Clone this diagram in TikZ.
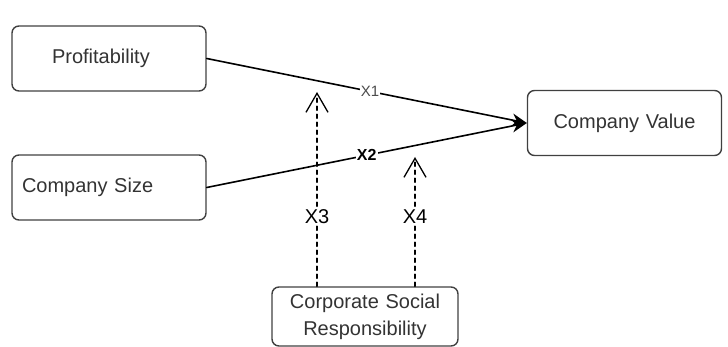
\documentclass[tikz,border=0pt]{standalone}
\usepackage{fontspec}
\setmainfont{Liberation Sans}
\usetikzlibrary{arrows.meta}
\definecolor{boxgray}{rgb}{0.25,0.25,0.25}
\definecolor{txtgray}{rgb}{0.2,0.2,0.2}

\begin{document}
\begin{tikzpicture}[line cap=round,line join=round,x=1pt,y=-1pt,
  box/.style={draw=boxgray,line width=1.4pt,rounded corners=7pt,minimum width=194pt,minimum height=65pt,text width=174pt,inner xsep=10pt,text=txtgray,font=\fontsize{20}{24}\selectfont},
  path/.style={line width=1.6pt,-{Stealth[length=15pt,width=13pt]}},
  mod/.style={line width=1.6pt,dash pattern=on 4pt off 4pt,-{Straight Barb[length=19pt,width=22pt,line width=1.3pt]}},
  lbl/.style={fill=white,inner sep=1pt,font=\fontsize{20}{24}\selectfont}]
\useasboundingbox (0,0) rectangle (728,347);
%boxes
\node[box,align=left,inner xsep=40pt,text width=114pt] (prof) at (109,58.5) {Profitability};
\node[box,align=left] (size) at (109,187.5) {Company Size};
\node[box,align=center] (value) at (624.5,123) {Company Value};
\node[box,minimum width=186pt,text width=166pt,minimum height=59pt,align=center,font=\fontsize{20}{27}\selectfont] (csr) at (365,316.5) {Corporate Social\\Responsibility};
%moderation points
\coordinate (m3) at (317,92);
\coordinate (m4) at (415,157);
%direct paths
\draw[path] (prof.east) -- node[pos=0.51,lbl,font=\fontsize{15}{18}\selectfont,text=black!70] {X1} (value.west);
\draw[path] (size.east) -- node[pos=0.5,lbl,font=\fontsize{16}{19}\selectfont\bfseries] {X2} (value.west);
%moderating paths
\draw[mod] (csr.north -| m3) -- node[pos=0.36,lbl] {X3} (m3);
\draw[mod] (csr.north -| m4) -- node[pos=0.54,lbl] {X4} (m4);
\end{tikzpicture}
\end{document}
